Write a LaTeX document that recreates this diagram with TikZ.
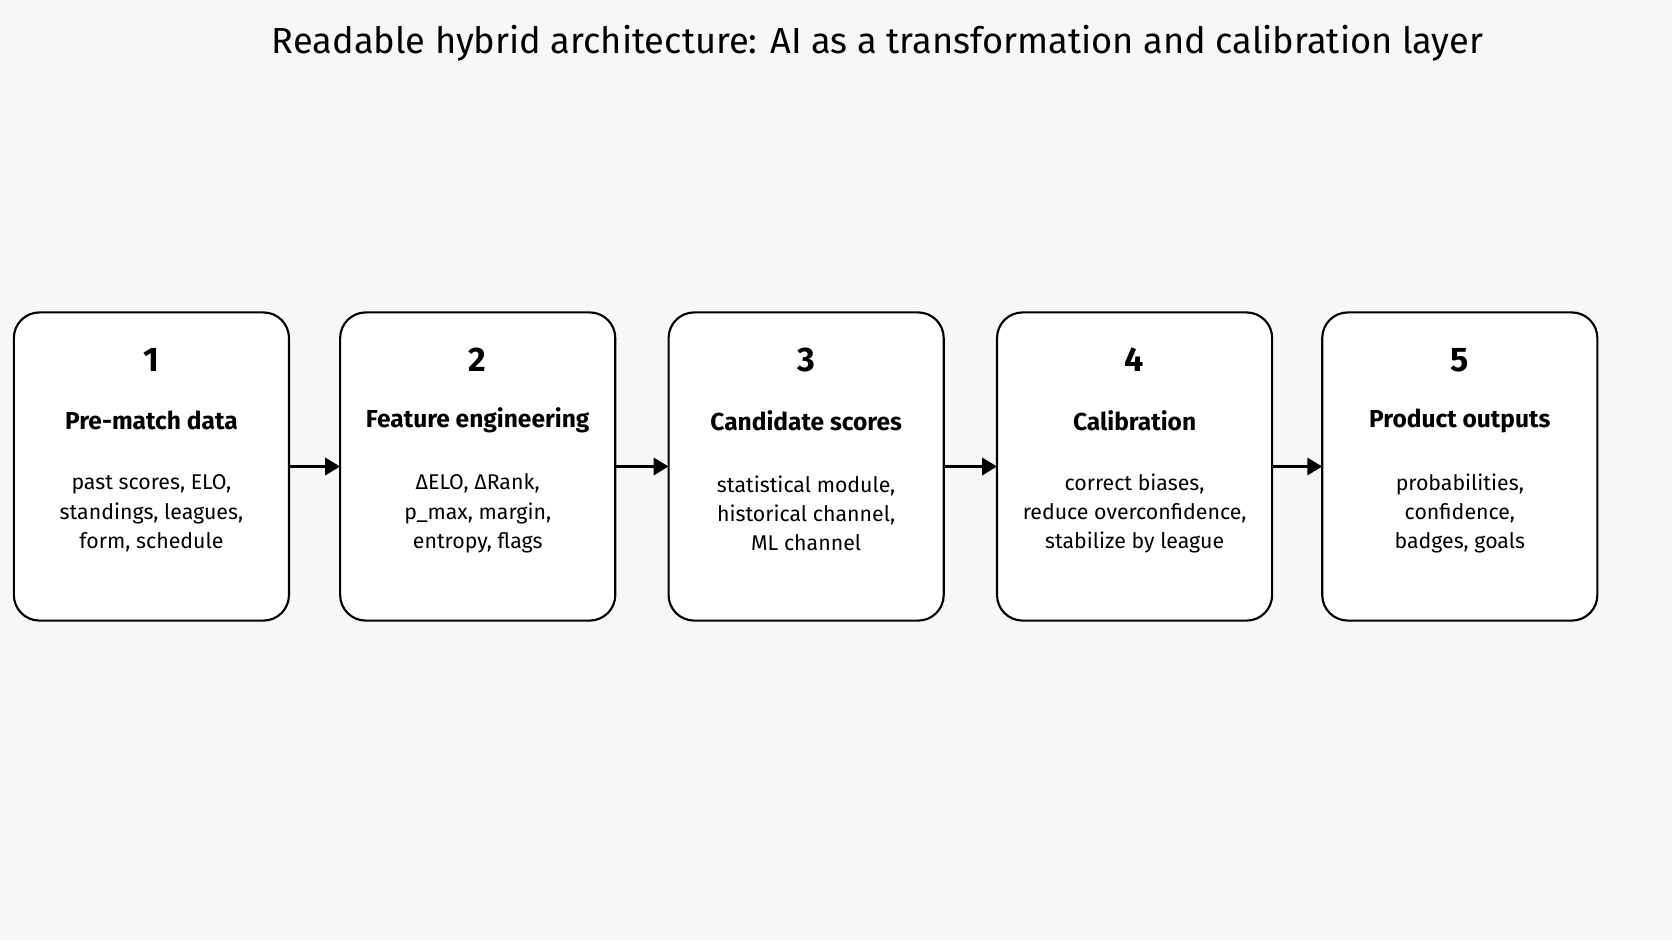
\documentclass[tikz,border=0pt]{standalone}
\usepackage{fontspec}
\setmainfont{Fira Sans}
\usetikzlibrary{positioning,arrows.meta}
\definecolor{bgGray}{HTML}{F7F7F7}
\begin{document}
\begin{tikzpicture}[x=0.5pt,y=0.5pt,
  stage/.style={draw=black, line width=1pt, fill=white, rounded corners=12pt,
                minimum width=129pt, minimum height=144.5pt, inner sep=0pt, outer sep=0pt},
  num/.style={font=\fontsize{16}{18}\selectfont\bfseries},
  head/.style={font=\fontsize{11.5}{14}\selectfont\bfseries},
  body/.style={font=\fontsize{10}{13.7}\selectfont, align=center},
  flow/.style={-{Triangle[length=7pt,width=8pt]}, line width=1.5pt}]
                              % background
                              \fill[bgGray] (0,0) rectangle (1568,882);
                              \useasboundingbox (0,0) rectangle (1568,882);

                              % title
                              \node[font=\fontsize{17}{20}\selectfont] (title) at (823,841)
                                {Readable hybrid architecture: AI as a transformation and calibration layer};

                              % stage boxes
                              \node[stage] (s1) at (142,444.5) {};
                              \node[stage] (s2) at (448,444.5) {};
                              \node[stage] (s3) at (756,444.5) {};
                              \node[stage] (s4) at (1064,444.5) {};
                              \node[stage] (s5) at (1369,444.5) {};

                              % numbers
                              \node[num] at ([yshift=50pt]s1.center) {1};
                              \node[num] at ([yshift=50pt]s2.center) {2};
                              \node[num] at ([yshift=50pt]s3.center) {3};
                              \node[num] at ([yshift=50pt]s4.center) {4};
                              \node[num] at ([yshift=50pt]s5.center) {5};

                              % headings
                              \node[head] at ([yshift=21.5pt]s1.center) {Pre-match data};
                              \node[head] at ([yshift=21.5pt]s2.center) {Feature engineering};
                              \node[head] at ([yshift=21.5pt]s3.center) {Candidate scores};
                              \node[head] at ([yshift=21.5pt]s4.center) {Calibration};
                              \node[head] at ([yshift=21.5pt]s5.center) {Product outputs};

                              % details
                              \node[body] at ([yshift=-22pt]s1.center) {past scores, ELO,\\standings, leagues,\\form, schedule};
                              \node[body] at ([yshift=-22pt]s2.center) {ΔELO, ΔRank,\\p\_max, margin,\\entropy, flags};
                              \node[body] at ([yshift=-22pt]s3.center) {statistical module,\\historical channel,\\ML channel};
                              \node[body] at ([yshift=-22pt]s4.center) {correct biases,\\reduce overconfidence,\\stabilize by league};
                              \node[body] at ([yshift=-22pt]s5.center) {probabilities,\\confidence,\\badges, goals};

                              % arrows
                              \draw[flow] (s1) -- (s2);
                              \draw[flow] (s2) -- (s3);
                              \draw[flow] (s3) -- (s4);
                              \draw[flow] (s4) -- (s5);
\end{tikzpicture}
\end{document}
